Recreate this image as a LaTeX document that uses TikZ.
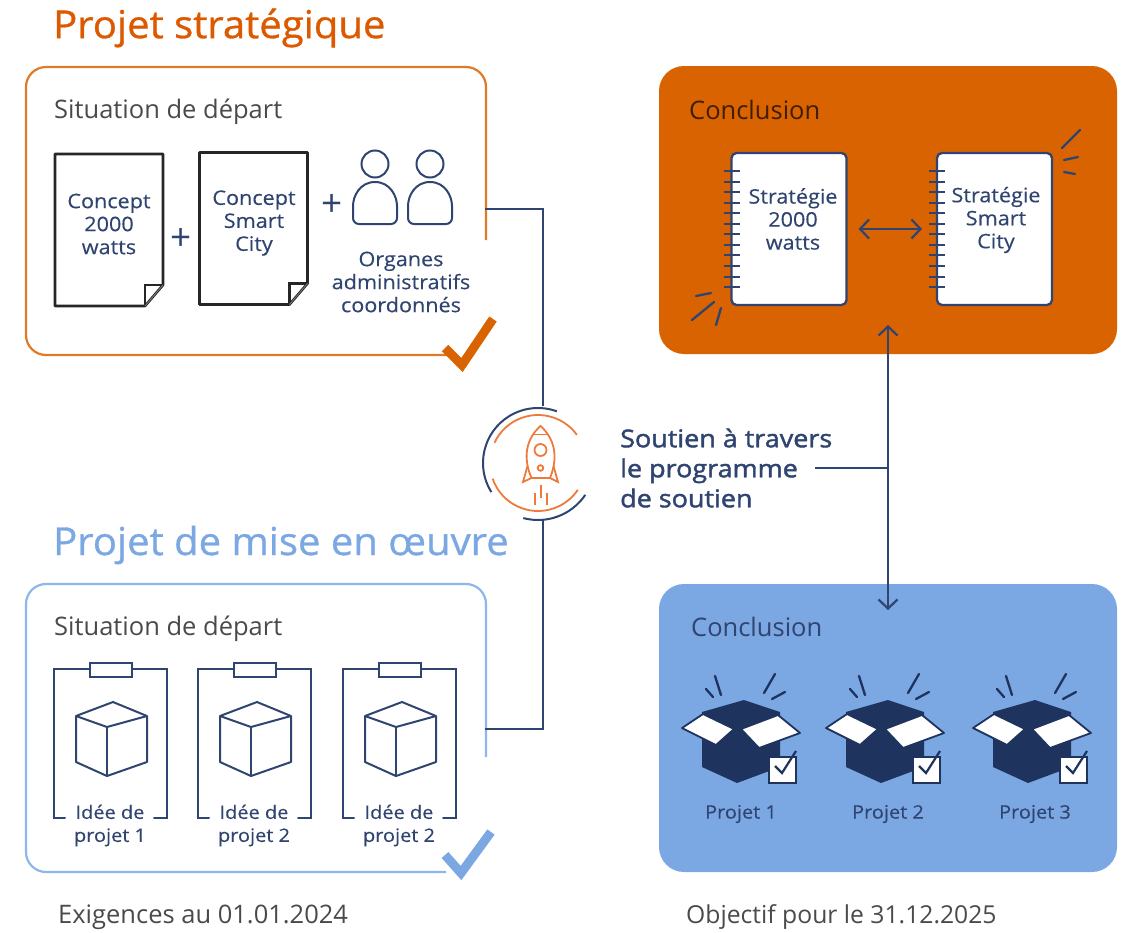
\documentclass[tikz,border=0pt]{standalone}
\usepackage{fontspec}
\setmainfont{Open Sans}
\newfontfamily\titlefont{Open Sans}[FakeBold=0.8,FakeStretch=1.04]
\newfontfamily\labelfont{Open Sans}[FakeBold=0.3,FakeStretch=1.08]
\newfontfamily\strongfont{Open Sans}[FakeBold=1.7,FakeStretch=1.1]
\usetikzlibrary{arrows.meta}
\definecolor{navy}{HTML}{2F4470}
\definecolor{darknavy}{HTML}{1F335F}
\definecolor{burnt}{HTML}{D96300}
\definecolor{rust}{HTML}{E07A26}
\definecolor{flame}{HTML}{EE7A3A}
\definecolor{sky}{HTML}{7BA7E3}
\definecolor{skyline}{HTML}{8DB6EC}
\definecolor{greytext}{HTML}{4A4A4A}
\tikzset{
  link/.style={navy,line width=2.2pt},
  title/.style={anchor=west,inner sep=0pt,font=\fontsize{38.5}{44}\titlefont},
  head/.style={anchor=west,inner sep=0pt,font=\fontsize{25.5}{30}\selectfont},
  small/.style={navy,align=center,inner sep=0pt,font=\fontsize{20}{23}\labelfont},
  tiny/.style={navy,align=center,inner sep=0pt,font=\fontsize{18.5}{23}\labelfont},
  plus/.style={navy,inner sep=0pt,font=\fontsize{37}{37}\selectfont},
  frame/.style={inner sep=0pt,outer sep=0pt,minimum width=458pt,minimum height=288pt},
  sheet/.style={line width=2.6pt,draw=black!85,fill=white,line join=round},
  thin/.style={navy,line width=2pt},
  burst/.style={navy,line width=2.3pt},
  rocketline/.style={flame,line width=1.8pt},
  book/.style={draw=navy,line width=2.3pt,fill=white,rounded corners=5pt,inner sep=0pt,outer sep=0pt,minimum width=115pt,minimum height=152pt},
  barb/.style={>={Straight Barb[length=9pt,width=19pt]}}
}
\begin{document}
\begin{tikzpicture}[x=1pt,y=-1pt]
  \useasboundingbox (0,0) rectangle (1122,932);
  % titres
  \node[title,text=burnt!90!red] (titlea) at (53,28) {Projet stratégique};
  \node[title,text=sky] (titleb) at (53,545) {Projet de mise en œuvre};

  % cadres ouverts
  \node[frame] (framea) at (256,211) {};
  \node[frame] (frameb) at (256,728) {};
  \draw[rust,line width=2.2pt] (486,240)--(486,87) arc (0:-90:20)--(46,67) arc (-90:-180:20)--(26,335) arc (180:90:20)--(448,355);
  \draw[skyline,line width=2.2pt] (486,757)--(486,604) arc (0:-90:20)--(46,584) arc (-90:-180:20)--(26,852) arc (180:90:20)--(446,872);
  \draw[burnt,line width=9pt] (445,348)--(462,365)--(493,319);
  \draw[sky,line width=9pt] (445,855)--(461,873)--(491,832);

  \node[head,text=greytext] (sita) at (54,112) {Situation de départ};
  \node[head,text=greytext] (sitb) at (54,629) {Situation de départ};

  % feuilles
  \foreach \dx/\dy in {0/0,144.5/-1.5}{
    \begin{scope}[shift={(\dx,\dy)}]
      \draw[sheet] (55,154)--(163,154)--(163,285)--(145,306)--(55,306)--cycle;
      \draw[black!85,line width=2.6pt] (163,285)--(145,285)--(145,306);
      \draw[black!50,line width=0.8pt] (163,285)--(145,306);
    \end{scope}
  }
  \node[small] (concepta) at (109,224) {Concept\\2000\\watts};
  \node[small] (conceptb) at (254,223) {Concept\\Smart\\City};
  \node[plus] (plusa) at (181,239) {+};
  \node[plus] (plusb) at (332,205) {+};

  % personnes
  \foreach \dx in {0,55}{
    \draw[thin] (375+\dx,164) circle (13.5);
    \draw[thin,rounded corners=6pt] (375+\dx,182) .. controls (360+\dx,182) and (353+\dx,196) .. (353+\dx,212)
      -- (353+\dx,224) -- (397+\dx,224) -- (397+\dx,212) .. controls (397+\dx,196) and (390+\dx,182) .. (375+\dx,182);
  }
  \node[small] (organes) at (401,282) {Organes\\administratifs\\coordonnés};

  % fusee
  \node[circle,inner sep=0pt,outer sep=0pt,minimum size=114pt] (rocket) at (538,463) {};
  \draw[navy,line width=2pt] (rocket.center)+(105:57) arc (105:34:57);
  \draw[navy,line width=2pt] (rocket.center)+(148:55) arc (148:290:55);
  \draw[rocketline] (rocket.center)+(161:48) arc (161:34:48);
  \draw[rocketline] (rocket.center)+(205:48) arc (205:324:48);
  \draw[rocketline] (531.5,478) .. controls (522,456) and (527,438) .. (540.5,426) .. controls (554,438) and (559,456) .. (550,478) -- cycle;
  \draw[rocketline] (533,434.5)--(548,434.5);
  \draw[rocketline] (540.5,450) circle (6);
  \draw[rocketline] (540.5,468) circle (2.8);
  \draw[rocketline] (527.5,466)--(523,482)--(531.5,478);
  \draw[rocketline] (553.5,466)--(558,482)--(550,478);
  \draw[rocketline] (541,485)--(541,498);
  \draw[rocketline] (535,493)--(535,505);
  \draw[rocketline] (547,493)--(547,505);

  % liaisons gauche
  \draw[link] ([yshift=2pt]framea.east) -| (rocket.85);
  \draw[link] ([yshift=-1pt]frameb.east) -| (rocket.275);

  % pochettes
  \foreach \dx/\nb in {0/1,144/2,289/2}{
    \begin{scope}[shift={(\dx,0)}]
      \draw[thin,line cap=round] (65,818)--(54,818)--(54,669)--(90,669);
      \draw[thin,line cap=round] (132,669)--(167,669)--(167,818)--(154,818);
      \draw[thin] (90,663) rectangle (132,677);
      \draw[thin,line join=round] (113,702)--(76,716)--(76,762)--(107,776)--(147,762)--(147,716)--cycle;
      \draw[thin,line join=round] (76,716)--(107,727)--(147,716);
      \draw[thin] (107,727)--(107,776);
      \node[tiny] (idea\dx) at (110,825.5) {Idée de\\projet \nb};
    \end{scope}
  }

  % bloc orange
  \node[frame,fill=burnt,rounded corners=25pt] (resulta) at (888,210) {};
  \node[head,text=black!70!burnt] (conca) at (689,110) {Conclusion};
  \node[book] (strata) at (789,229) {};
  \node[book] (stratb) at (994.5,229) {};
  \foreach \n in {0,...,11}{
    \draw[navy,line width=2pt] ([xshift=-8pt]strata.west |- 0,171+\n*10.55) -- ([xshift=8pt]strata.west |- 0,171+\n*10.55);
    \draw[navy,line width=2pt] ([xshift=-8pt]stratb.west |- 0,171+\n*10.55) -- ([xshift=8pt]stratb.west |- 0,171+\n*10.55);
  }
  \node[small] (stratlabela) at (793,219) {Stratégie\\2000\\watts};
  \node[small] (stratlabelb) at (996,220) {Stratégie\\Smart\\City};
  \draw[link,<->,barb,shorten <=12pt,shorten >=15pt] (strata) -- (stratb);
  \draw[burst,line cap=round] (692,320)--(714,302);
  \draw[burst,line cap=round] (696,296)--(711,293);
  \draw[burst,line cap=round] (716,325)--(721,308);
  \draw[burst,line cap=round] (1062,148)--(1080,130);
  \draw[burst,line cap=round] (1064,160)--(1078,157);
  \draw[burst,line cap=round] (1064,172)--(1075,174);

  % bloc bleu
  \node[frame,fill=sky,rounded corners=25pt] (resultb) at (888,728) {};
  \node[head,text=navy] (concb) at (691,627) {Conclusion};
  \foreach \dx/\nb/\tx in {0/1/741,144/2/888,291/3/1035}{
    \begin{scope}[shift={(\dx,0)}]
      \fill[darknavy] (744,700)--(702,712)--(702,767)--(737,783)--(780,767)--(780,712)--cycle;
      \draw[darknavy,line width=1.8pt,fill=white,line join=round] (682,728)--(703,714)--(734,729)--(716,745)--cycle;
      \draw[darknavy,line width=1.8pt,fill=white,line join=round] (741,729)--(778,715)--(800,733)--(759,748)--cycle;
      \draw[darknavy,line width=2pt,fill=white] (769,757) rectangle (796,783);
      \draw[darknavy,line width=2.2pt] (775,766)--(782,773)--(796,751);
      \draw[burst,darknavy,line cap=round] (715,676)--(721,695);
      \draw[burst,darknavy,line cap=round] (706,689)--(713,697);
      \draw[burst,darknavy,line cap=round] (775,674)--(764,693);
      \draw[burst,darknavy,line cap=round] (785,692)--(772,699);
    \end{scope}
    \node[tiny] (proj\nb) at (\tx,814) {Projet \nb};
  }

  % soutien
  \coordinate (arrowtop) at (888,325);
  \coordinate (arrowbot) at (888,610);
  \coordinate (branch) at (888,468);
  \draw[link,<->,barb] (arrowtop) -- (arrowbot);
  \node[anchor=west,align=left,inner sep=0pt,text=navy,font=\fontsize{24.5}{30}\strongfont] (soutien) at (620,468) {Soutien à travers\\le programme\\de soutien};
  \draw[link] ([xshift=-17pt]soutien.east) -- (branch);

  % bas de page
  \node[head,text=greytext] (exig) at (58,917) {Exigences au 01.01.2024};
  \node[head,text=greytext,font=\fontsize{24.7}{30}\selectfont] (obj) at (686,917) {Objectif pour le 31.12.2025};
\end{tikzpicture}
\end{document}
